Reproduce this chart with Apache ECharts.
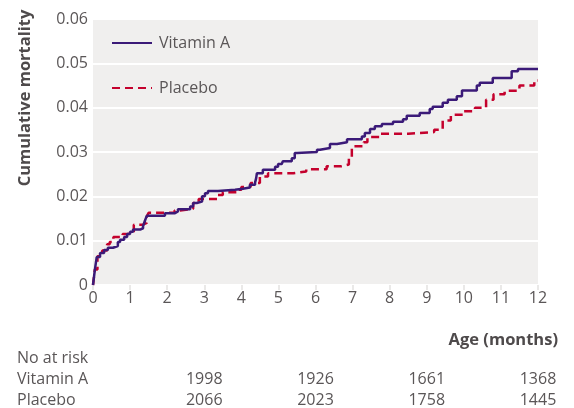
<!DOCTYPE html>
<html>
<head>
<meta charset="utf-8">
<script src="https://cdn.jsdelivr.net/npm/echarts@6/dist/echarts.min.js"></script>
<style>
html,body{margin:0;padding:0;background:#fff;}
#chart{width:574px;height:408px;}
</style>
</head>
<body>
<div id="chart"></div>
<script>
// Kaplan-Meier step data: [age in months, cumulative mortality]
var vitaminA = [
  [0,0],[0.05,0.0034],[0.1,0.0063],[0.19,0.0072],[0.3,0.0079],[0.4,0.0084],[0.54,0.0088],
  [0.67,0.0097],[0.73,0.0102],[0.84,0.0108],[0.92,0.0115],[1.0,0.012],[1.08,0.0125],
  [1.27,0.0128],[1.35,0.0133],[1.4,0.0145],[1.45,0.0156],[1.94,0.0162],[2.21,0.0166],
  [2.29,0.0171],[2.62,0.0177],[2.7,0.0185],[2.8,0.0188],[2.94,0.02],[3.02,0.0207],
  [3.1,0.0212],[3.37,0.0215],[3.83,0.0217],[4.04,0.022],[4.23,0.0226],[4.37,0.0231],
  [4.4,0.0241],[4.42,0.0252],[4.58,0.026],[4.91,0.0267],[4.99,0.0273],[5.09,0.0276],
  [5.12,0.0279],[5.36,0.0286],[5.44,0.0298],[5.5,0.03],[6.04,0.0305],[6.12,0.0309],
  [6.39,0.0318],[6.58,0.0322],[6.85,0.0329],[7.25,0.0335],[7.33,0.0343],[7.47,0.0352],
  [7.6,0.0358],[7.79,0.0363],[8.09,0.0368],[8.36,0.0374],[8.46,0.0382],[8.81,0.0388],
  [9.08,0.0397],[9.16,0.0402],[9.43,0.0411],[9.57,0.0418],[9.81,0.0426],[9.95,0.0439],
  [10.35,0.045],[10.43,0.0456],[10.78,0.0467],[11.29,0.0482],[11.46,0.0487],[12,0.0487]
];
var placebo = [
  [0,0],[0.05,0.0035],[0.12,0.0065],[0.25,0.0078],[0.38,0.0092],[0.45,0.0097],[0.55,0.0108],
  [0.8,0.0115],[0.92,0.0117],[1.1,0.0136],[1.35,0.014],[1.45,0.0155],[1.5,0.0163],
  [2.2,0.0168],[2.35,0.0172],[2.7,0.0185],[2.85,0.0194],[3.35,0.0203],[3.5,0.0209],
  [3.9,0.0215],[4.0,0.0221],[4.25,0.023],[4.5,0.0245],[4.72,0.0252],[5.4,0.0256],
  [5.75,0.0261],[6.3,0.0268],[6.7,0.0272],[6.9,0.0285],[6.98,0.0313],[7.3,0.0322],
  [7.4,0.0334],[7.75,0.0341],[8.5,0.0345],[9.2,0.035],[9.43,0.0371],[9.65,0.0384],
  [10.0,0.0392],[10.3,0.04],[10.6,0.0418],[10.8,0.043],[11.1,0.0438],[11.5,0.045],
  [11.9,0.0461],[12,0.0461]
];
var seriesNames = ['Vitamin A', 'Placebo'];
var riskMonths = [3, 6, 9, 12];
var riskVitaminA = [1998, 1926, 1661, 1368];
var riskPlacebo = [2066, 2023, 1758, 1445];

var FONT = '"Open Sans", "DejaVu Sans", sans-serif';
var TXT = '#5a5657';
var TITLE = '#4e4a4b';
var chart = echarts.init(document.getElementById('chart'));

var option = {
  animation: false,
  backgroundColor: '#ffffff',
  grid: {
    left: 93, right: 36, top: 19, bottom: 123,
    show: true, backgroundColor: '#f0efee', borderWidth: 0
  },
  legend: {
    orient: 'vertical',
    left: 106, top: 30,
    itemWidth: 40, itemHeight: 14, itemGap: 29,
    data: seriesNames,
    itemStyle: { opacity: 0, borderWidth: 0 },
    textStyle: { fontFamily: FONT, fontSize: 16, color: TXT, padding: [0,0,0,2] }
  },
  xAxis: {
    type: 'value', min: 0, max: 12, interval: 1,
    axisLine: { show: false },
    axisTick: { show: true, length: 5, lineStyle: { color: '#e4e2e1', width: 1.5 } },
    splitLine: { show: false },
    axisLabel: { fontFamily: FONT, fontSize: 16, color: TXT, margin: 5 }
  },
  yAxis: {
    type: 'value', min: 0, max: 0.06, interval: 0.01,
    axisLine: { show: false },
    axisTick: { show: false },
    splitLine: { show: true, lineStyle: { color: '#ffffff', width: 2 } },
    axisLabel: {
      fontFamily: FONT, fontSize: 16, color: TXT, margin: 5,
      formatter: function (v) { return v === 0 ? '0' : v.toFixed(2); }
    }
  },
  series: [
    {
      name: seriesNames[0], type: 'line', step: 'end', symbol: 'none',
      data: vitaminA,
      lineStyle: { color: '#3b1a78', width: 2.5 },
      itemStyle: { color: '#3b1a78' },
      z: 3
    },
    {
      name: seriesNames[1], type: 'line', step: 'end', symbol: 'none',
      data: placebo,
      lineStyle: { color: '#c4012d', width: 2.5, type: [8, 5] },
      itemStyle: { color: '#c4012d' },
      z: 2
    }
  ]
};
chart.setOption(option);

var graphics = [
  {
    type: 'text', x: 25, y: 98, rotation: Math.PI / 2,
    style: { text: 'Cumulative mortality', fontFamily: FONT, fontSize: 16.5, fontWeight: 'bold',
      fill: TITLE, textAlign: 'center', textVerticalAlign: 'middle' }
  },
  {
    type: 'text', x: 558, y: 340,
    style: { text: 'Age (months)', fontFamily: FONT, fontSize: 16.5, fontWeight: 'bold',
      fill: TITLE, textAlign: 'right', textVerticalAlign: 'middle' }
  },
  { type: 'text', x: 17, y: 358,
    style: { text: 'No at risk', fontFamily: FONT, fontSize: 16, fill: TXT, textVerticalAlign: 'middle' } },
  { type: 'text', x: 17, y: 379,
    style: { text: seriesNames[0], fontFamily: FONT, fontSize: 16, fill: TXT, textVerticalAlign: 'middle' } },
  { type: 'text', x: 17, y: 400,
    style: { text: seriesNames[1], fontFamily: FONT, fontSize: 16, fill: TXT, textVerticalAlign: 'middle' } }
];
riskMonths.forEach(function (m, i) {
  var px = chart.convertToPixel({ xAxisIndex: 0 }, m);
  graphics.push({ type: 'text', x: px, y: 379,
    style: { text: String(riskVitaminA[i]), fontFamily: FONT, fontSize: 16, fill: TXT,
      textAlign: 'center', textVerticalAlign: 'middle' } });
  graphics.push({ type: 'text', x: px, y: 400,
    style: { text: String(riskPlacebo[i]), fontFamily: FONT, fontSize: 16, fill: TXT,
      textAlign: 'center', textVerticalAlign: 'middle' } });
});
chart.setOption({ graphic: graphics });
</script>
</body>
</html>
